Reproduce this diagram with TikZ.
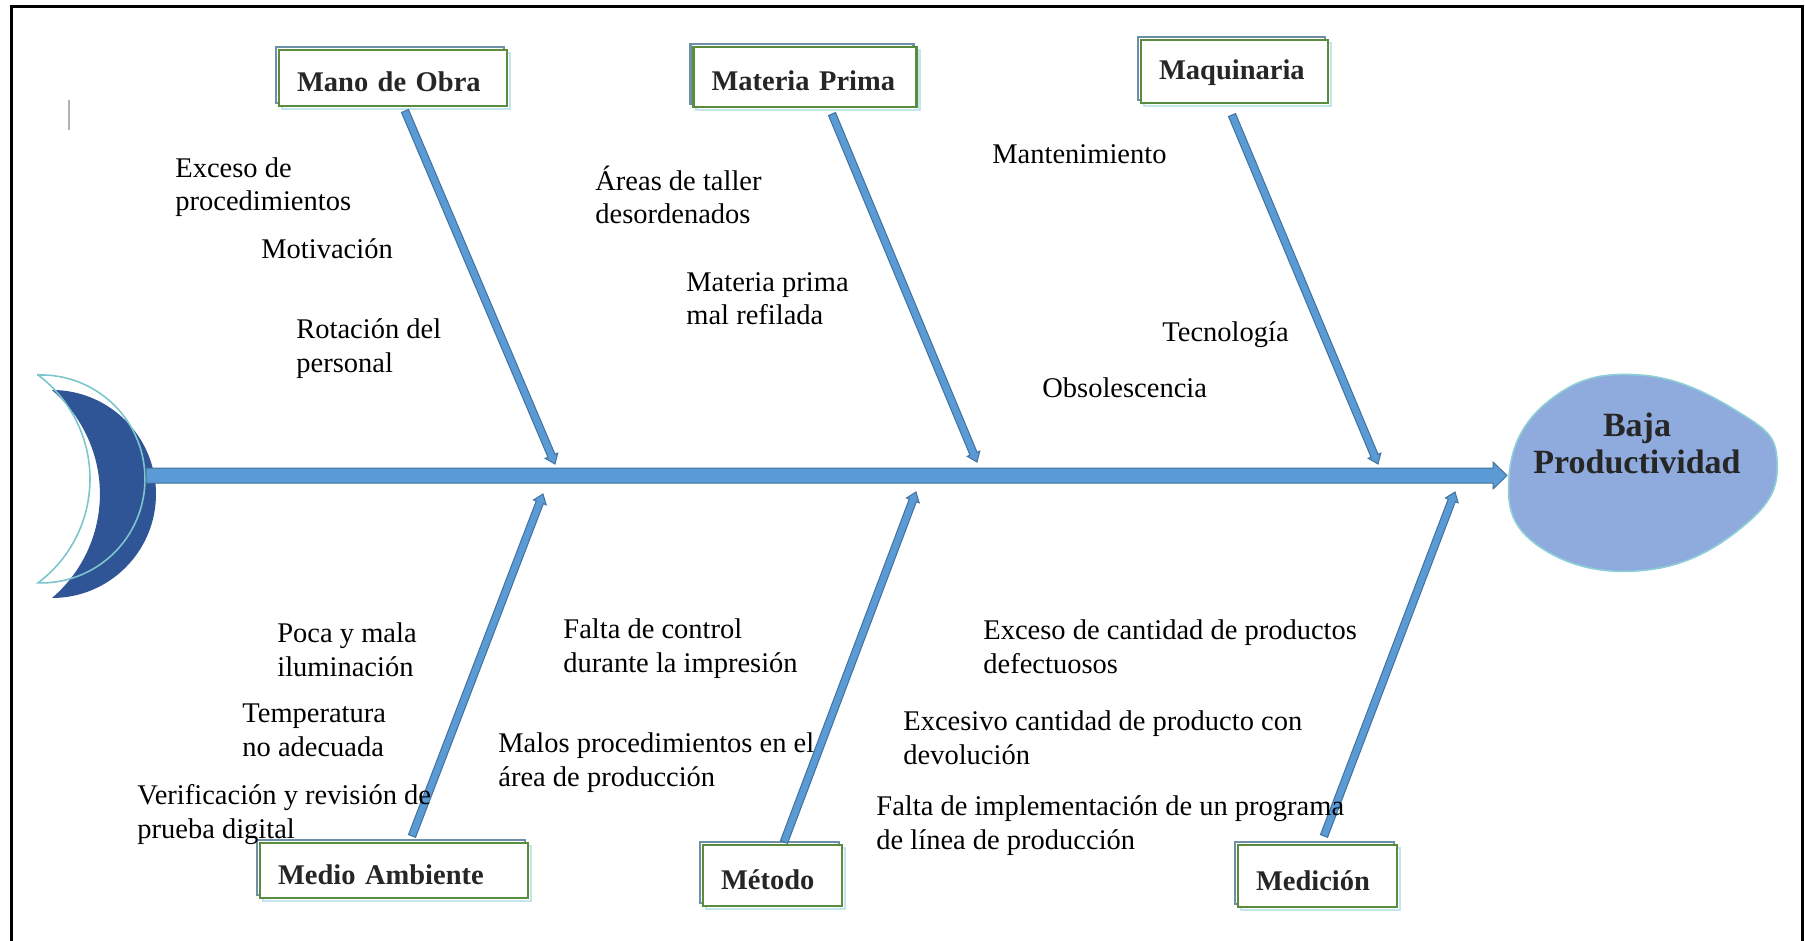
\documentclass[tikz,border=0pt]{standalone}
\usepackage{fontspec}
\setmainfont{Liberation Serif}
\usetikzlibrary{calc}

\definecolor{bonefill}{HTML}{5B9BD5}
\definecolor{boneline}{HTML}{41719C}
\definecolor{tailblue}{HTML}{2F5597}
\definecolor{tailrim}{HTML}{7CC6CC}
\definecolor{headfill}{HTML}{8FAADC}
\definecolor{headrim}{HTML}{8CCFD6}
\definecolor{boxgreen}{HTML}{5B8C3E}
\definecolor{boxslate}{HTML}{6E8FA8}
\definecolor{boxmist}{HTML}{C3E6EC}
\definecolor{ink}{HTML}{262626}

% block arrow: #1 start, #2 tip, #3 half shaft, #4 half head, #5 head length
\newcommand\blockarrow[5]{%
  \coordinate (bh) at ($(#2)!#5!(#1)$);
  \filldraw[bonefill, draw=boneline, line width=0.5pt, line join=miter]
    ($(#1)!#3!90:(#2)$) -- ($(bh)!#3!90:(#2)$) -- ($(bh)!#4!90:(#2)$) -- (#2)
    -- ($(bh)!#4!-90:(#2)$) -- ($(bh)!#3!-90:(#2)$) -- ($(#1)!#3!-90:(#2)$) -- cycle;
}

\tikzset{
  catbox/.style={rectangle, draw=boxgreen, line width=1.1pt, fill=white,
    font=\fontsize{14.25}{17}\selectfont\bfseries, text=ink, align=left,
    inner xsep=9pt, inner ysep=0pt, text height=15pt, text depth=1pt,
    preaction={draw=boxmist, line width=1.1pt, transform canvas={shift={(1.5pt,-1.5pt)}}},
    preaction={draw=boxslate, line width=1.1pt, transform canvas={shift={(-1.5pt,1.5pt)}}}},
  % anchored on the baseline of the last line
  cause/.style={anchor=base west, inner sep=0pt, align=left,
    font=\fontsize{14.25}{16.75}\selectfont},
}

\begin{document}
\begin{tikzpicture}[x=0.5pt, y=-0.5pt]
\useasboundingbox (0,0) rectangle (1805,941);

% page frame, open at the bottom
\draw[line width=1.6pt] (11.5,960) -- (11.5,6.5) -- (1802.5,6.5) -- (1802.5,960);
\draw[gray!60, line width=0.6pt] (69,100) -- (69,130);

% fish tail
\fill[tailblue] (52,390) arc[start angle=-90, end angle=90, radius=104]
  arc[start angle=49.5, end angle=-49.5, radius=136.7] -- cycle;
\draw[tailrim, line width=0.8pt] (38,375) arc[start angle=-91.65, end angle=91.65, radius=104]
  arc[start angle=53.13, end angle=-53.13, radius=130] -- cycle;

% fish head
\filldraw[fill=headfill, draw=headrim, line width=0.8pt]
  plot[smooth cycle, tension=0.75] coordinates {(1509,477) (1550,400) (1640,375) (1740,413)
    (1777,460) (1747,523) (1647,570) (1540,547)};
\node[font=\fontsize{17}{18.5}\selectfont\bfseries, text=ink, align=center, anchor=base, inner sep=0pt]
  (head) at (1637,473) {Baja\\Productividad};

% spine
\coordinate (spine-start) at (146,475.5);
\coordinate (spine-tip) at (1507,475.5);
\blockarrow{spine-start}{spine-tip}{3.75pt}{6.75pt}{7pt}

% category boxes
\node[catbox, text width=96pt, minimum height=28pt] (mo) at (393,78) {Mano de Obra};
\node[catbox, text width=93.5pt, minimum height=30pt] (mp) at (805,77) {Materia Prima};
\node[catbox, text width=75.5pt, minimum height=31.5pt, text height=9.5pt] (mq) at (1234.5,71.5) {Maquinaria};
\node[catbox, text width=116pt, minimum height=27.5pt] (ma) at (394,870.5) {Medio Ambiente};
\node[catbox, text width=51.5pt, minimum height=30.5pt] (me) at (772.5,875.5) {Método};
\node[catbox, text width=61.5pt, minimum height=31pt] (md) at (1317.5,876) {Medición};

% bone end points
\coordinate (mo-a) at (405,111);   \coordinate (mo-b) at (555,464);
\coordinate (mp-a) at (832,114);   \coordinate (mp-b) at (977,462);
\coordinate (mq-a) at (1232,115);  \coordinate (mq-b) at (1378,464);
\coordinate (ma-a) at (412,836);   \coordinate (ma-b) at (543,494);
\coordinate (me-a) at (784,842);   \coordinate (me-b) at (916,492);
\coordinate (md-a) at (1324,836);  \coordinate (md-b) at (1455,492);

\blockarrow{mo-a}{mo-b}{1.9pt}{3.4pt}{4.5pt}
\blockarrow{mp-a}{mp-b}{1.9pt}{3.4pt}{4.5pt}
\blockarrow{mq-a}{mq-b}{1.9pt}{3.4pt}{4.5pt}
\blockarrow{ma-a}{ma-b}{1.9pt}{3.4pt}{4.5pt}
\blockarrow{me-a}{me-b}{1.9pt}{3.4pt}{4.5pt}
\blockarrow{md-a}{md-b}{1.9pt}{3.4pt}{4.5pt}

% causes
\node[cause] (c1) at (175,211) {Exceso de\\procedimientos};
\node[cause] (c2) at (261,259) {Motivación};
\node[cause] (c3) at (296,372) {Rotación del\\personal};
\node[cause] (c4) at (595,224) {Áreas de taller\\desordenados};
\node[cause] (c5) at (686,325) {Materia prima\\mal refilada};
\node[cause] (c6) at (992,164) {Mantenimiento};
\node[cause] (c7) at (1162,342) {Tecnología};
\node[cause] (c8) at (1042,397) {Obsolescencia};
\node[cause] (c9) at (277,676) {Poca y mala\\iluminación};
\node[cause] (c10) at (242,756) {Temperatura\\no adecuada};
\node[cause] (c11) at (137,838) {Verificación y revisión de\\prueba digital};
\node[cause] (c12) at (563,672) {Falta de control\\durante la impresión};
\node[cause] (c13) at (498,786) {Malos procedimientos en el\\área de producción};
\node[cause] (c14) at (983,673) {Exceso de cantidad de productos\\defectuosos};
\node[cause] (c15) at (903,764) {Excesivo cantidad de producto con\\devolución};
\node[cause] (c16) at (876,849) {Falta de implementación de un programa\\de línea de producción};
\end{tikzpicture}
\end{document}
